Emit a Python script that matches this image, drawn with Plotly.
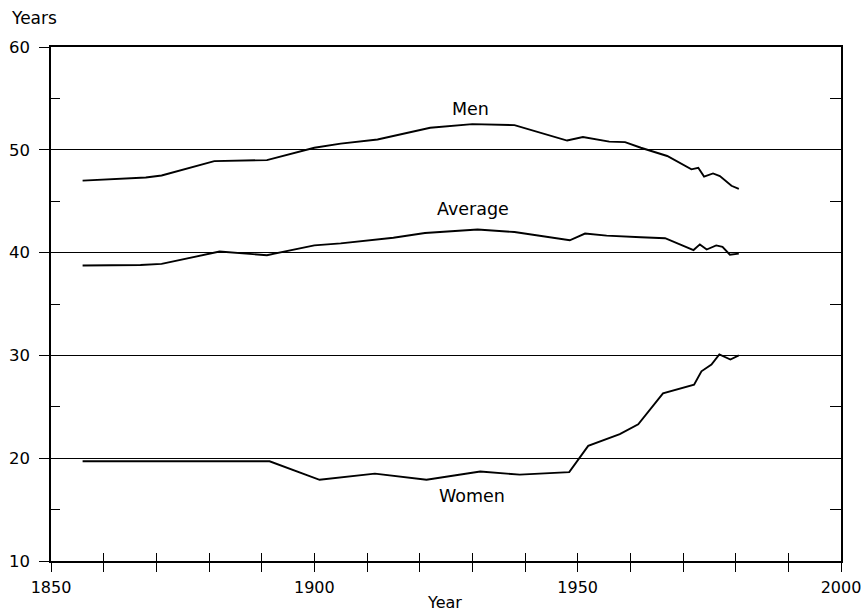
import plotly.graph_objects as go

# ---- data ----
years_men = [1856, 1868, 1871, 1881, 1891, 1900, 1905, 1912, 1922, 1930, 1938, 1948,
             1951, 1956, 1959, 1962, 1967, 1971.6, 1972.9, 1974, 1975.7, 1977, 1979.2, 1980.6]
men = [47.0, 47.3, 47.5, 48.9, 49.0, 50.2, 50.6, 51.0, 52.15, 52.5, 52.4, 50.9,
       51.25, 50.8, 50.75, 50.2, 49.4, 48.1, 48.25, 47.4, 47.7, 47.45, 46.5, 46.2]

years_avg = [1856, 1867, 1871, 1882, 1891, 1900, 1905, 1915, 1921, 1931, 1938, 1948.5,
             1951.4, 1955.5, 1962, 1966.6, 1972, 1973.2, 1974.5, 1976.3, 1977.5, 1978.9, 1980.6]
average = [38.75, 38.8, 38.9, 40.1, 39.75, 40.7, 40.9, 41.45, 41.9, 42.25, 42.0, 41.2,
           41.85, 41.65, 41.5, 41.4, 40.25, 40.8, 40.3, 40.7, 40.55, 39.8, 39.9]

years_women = [1856, 1869, 1891.5, 1901, 1911.5, 1921.3, 1931.5, 1939, 1948.4, 1952, 1958,
               1961.5, 1966.2, 1972.1, 1973.5, 1975.4, 1976.9, 1979, 1980.6]
women = [19.7, 19.7, 19.7, 17.9, 18.5, 17.9, 18.7, 18.4, 18.65, 21.2, 22.35,
         23.3, 26.3, 27.15, 28.45, 29.1, 30.1, 29.6, 30.0]

x_ticks = list(range(1850, 2001, 10))
x_ticktext = [str(v) if v % 50 == 0 else "" for v in x_ticks]
y_major = [10, 20, 30, 40, 50, 60]
y_minor = [15, 25, 35, 45, 55]

series_labels = [("Men", 1929.6, 54.0), ("Average", 1930.1, 44.2), ("Women", 1929.9, 16.3)]

FONT = "DejaVu Sans"
LINE = dict(color="black", width=1.9)

fig = go.Figure()
fig.add_trace(go.Scatter(x=years_men, y=men, mode="lines", line=LINE, name="Men"))
fig.add_trace(go.Scatter(x=years_avg, y=average, mode="lines", line=LINE, name="Average"))
fig.add_trace(go.Scatter(x=years_women, y=women, mode="lines", line=LINE, name="Women",
                         xaxis="x2", yaxis="y2"))

for text, xv, yv in series_labels:
    fig.add_annotation(x=xv, y=yv, text=text, showarrow=False,
                       font=dict(family=FONT, size=17.5, color="black"))

fig.add_annotation(x=-0.0532, y=1.0, xref="paper", yref="paper", xanchor="left", yanchor="middle",
                   yshift=29, text="Years", showarrow=False,
                   font=dict(family=FONT, size=17, color="black"))
fig.add_annotation(x=0.4987, y=0, xref="paper", yref="paper", xanchor="center", yanchor="middle",
                   yshift=-41.5, text="Year", showarrow=False,
                   font=dict(family=FONT, size=16, color="black"))

fig.update_layout(
    width=864, height=615,
    margin=dict(l=51, r=23, t=47, b=54, autoexpand=False),
    paper_bgcolor="white", plot_bgcolor="white",
    showlegend=False,
    font=dict(family=FONT, size=16, color="black"),
    xaxis=dict(range=[1850, 2000], tickvals=x_ticks, ticktext=x_ticktext,
               ticks="outside", ticklen=9, tickwidth=1.3, tickcolor="black",
               ticklabelstandoff=2, automargin=False, ticklabeloverflow="allow",
               showgrid=False, zeroline=False, showline=True, linecolor="black",
               linewidth=1.5, mirror=True, tickfont=dict(family=FONT, size=16)),
    xaxis2=dict(range=[1850, 2000], overlaying="x", anchor="y2", side="bottom",
                tickvals=x_ticks, ticks="inside", ticklen=8, tickwidth=1.3,
                tickcolor="black", showticklabels=False, showgrid=False,
                automargin=False, zeroline=False, showline=False),
    yaxis=dict(range=[10, 60], tickvals=y_major, ticks="outside", ticklen=10,
               tickwidth=1.3, tickcolor="black", showgrid=True, gridcolor="black",
               gridwidth=1.2, zeroline=False, showline=True, linecolor="black",
               ticklabelstandoff=6, automargin=False, ticklabeloverflow="allow",
               linewidth=1.5, mirror=True, tickfont=dict(family=FONT, size=16.5),
               minor=dict(tickvals=y_minor, ticks="inside", ticklen=9,
                          tickcolor="black", tickwidth=1.3, showgrid=False)),
    yaxis2=dict(range=[10, 60], overlaying="y", anchor="x2", side="right",
                tickvals=y_minor, ticks="inside", ticklen=11, tickwidth=1.3,
                tickcolor="black", showticklabels=False, showgrid=False,
                automargin=False, zeroline=False, showline=False),
)

fig.write_html(
    "out.html",
    config={"displayModeBar": False},
    post_script="document.body.style.margin='0';document.body.style.overflow='hidden';",
)
